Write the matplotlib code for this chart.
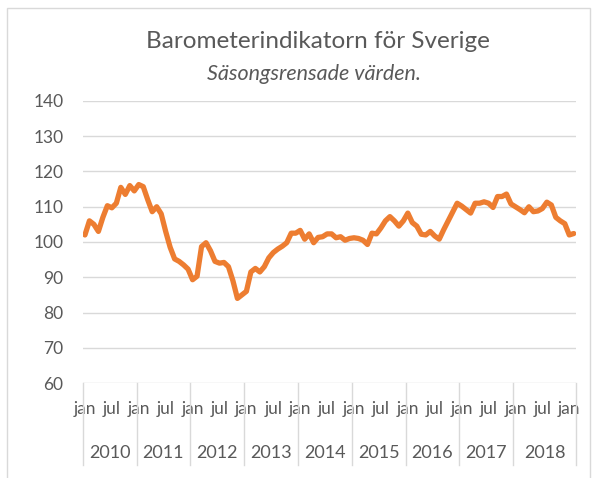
import matplotlib
matplotlib.use("Agg")
import matplotlib.pyplot as plt
from matplotlib.patches import Rectangle
import matplotlib.transforms as mtransforms

# Barometerindikatorn, monthly, jan 2010 - feb 2019
years = ["2010", "2011", "2012", "2013", "2014", "2015", "2016", "2017", "2018"]
year_months = [12, 12, 12, 12, 12, 12, 12, 12, 14]  # 2018 group also holds jan-feb 2019
month_labels = ["jan", "jul"]
values = [
    102.0, 106.0, 105.0, 103.0, 107.0, 110.3, 109.7, 111.0, 115.5, 113.5, 116.0, 114.5,   # 2010
    116.3, 115.7, 112.0, 108.6, 110.0, 108.0, 103.0, 98.5, 95.2, 94.5, 93.5, 92.3,        # 2011
    89.3, 90.3, 98.7, 99.8, 97.5, 94.5, 94.0, 94.2, 93.0, 89.0, 84.0, 85.0,               # 2012
    86.0, 91.5, 92.5, 91.5, 93.0, 95.5, 97.0, 98.0, 98.8, 99.8, 102.5, 102.5,             # 2013
    103.3, 100.8, 102.3, 99.8, 101.3, 101.5, 102.3, 102.3, 101.2, 101.5, 100.5, 101.0,    # 2014
    101.2, 101.0, 100.5, 99.3, 102.5, 102.3, 104.0, 106.0, 107.2, 106.0, 104.5, 106.0,    # 2015
    108.2, 105.5, 104.5, 102.2, 102.0, 103.0, 101.7, 100.8, 103.5, 106.0, 108.5, 111.0,   # 2016
    110.2, 109.2, 108.2, 111.0, 111.0, 111.4, 111.0, 109.8, 112.9, 112.9, 113.6, 110.8,   # 2017
    110.0, 109.2, 108.3, 110.0, 108.6, 108.8, 109.5, 111.3, 110.5, 107.0, 106.0, 105.2,   # 2018
    102.0, 102.4,                                                                         # 2019
]
y_ticks = [60, 70, 80, 90, 100, 110, 120, 130, 140]

FONT = "Lato"
GRAY = "#595959"
GRID = "#d9d9d9"
ORANGE = "#ED7D31"

fig = plt.figure(figsize=(5.94, 4.78), dpi=100)
W, H = 594.0, 478.0

# chart area border
fig.patches.append(Rectangle((7 / W, -0.01), 583 / W, 1 - 8 / H + 0.01, transform=fig.transFigure,
                             fill=False, edgecolor=GRID, linewidth=1.0))

ax = fig.add_axes([82.7 / W, (H - 383) / H, (576 - 82.7) / W, (383 - 101) / H])
n = len(values)
ax.plot(range(n), values, color=ORANGE, linewidth=3.8, solid_joinstyle="round", solid_capstyle="round")

ax.set_xlim(-0.5, n - 0.5)
ax.set_ylim(60, 140)
ax.set_yticks(y_ticks)
ax.set_yticklabels([str(v) for v in y_ticks], fontfamily=FONT, fontsize=12.5, color=GRAY)
ax.tick_params(axis="y", length=0, pad=14)
ax.grid(axis="y", color=GRID, linewidth=1.0)
ax.set_axisbelow(True)
for s in ax.spines.values():
    s.set_visible(False)

ticks = list(range(0, n, 6))
ax.set_xticks(ticks)
ax.set_xticklabels([month_labels[(t // 6) % 2] for t in ticks], fontfamily=FONT, fontsize=12.5, color=GRAY)
ax.tick_params(axis="x", length=0, pad=13)

# year groups on second level of the category axis
trans = mtransforms.blended_transform_factory(ax.transData, ax.transAxes)
start = -0.5
ax.plot([start, start], [0, -0.29], transform=trans, color=GRID, linewidth=1.0, clip_on=False)
for yr, cnt in zip(years, year_months):
    end = start + cnt
    ax.plot([end, end], [0, -0.29], transform=trans, color=GRID, linewidth=1.0, clip_on=False)
    ax.text((start + end) / 2, -0.248, yr, transform=trans, ha="center", va="center",
            fontfamily=FONT, fontsize=13, color=GRAY)
    start = end

fig.text(318 / W, 1 - 42 / H, "Barometerindikatorn för Sverige", ha="center", va="center",
         fontfamily=FONT, fontsize=17.5, color=GRAY)
fig.text(314 / W, 1 - 74 / H, "Säsongsrensade värden.", ha="center", va="center",
         fontfamily=FONT, fontsize=15.5, fontstyle="italic", color=GRAY)

fig.savefig("out.png", dpi=100)
